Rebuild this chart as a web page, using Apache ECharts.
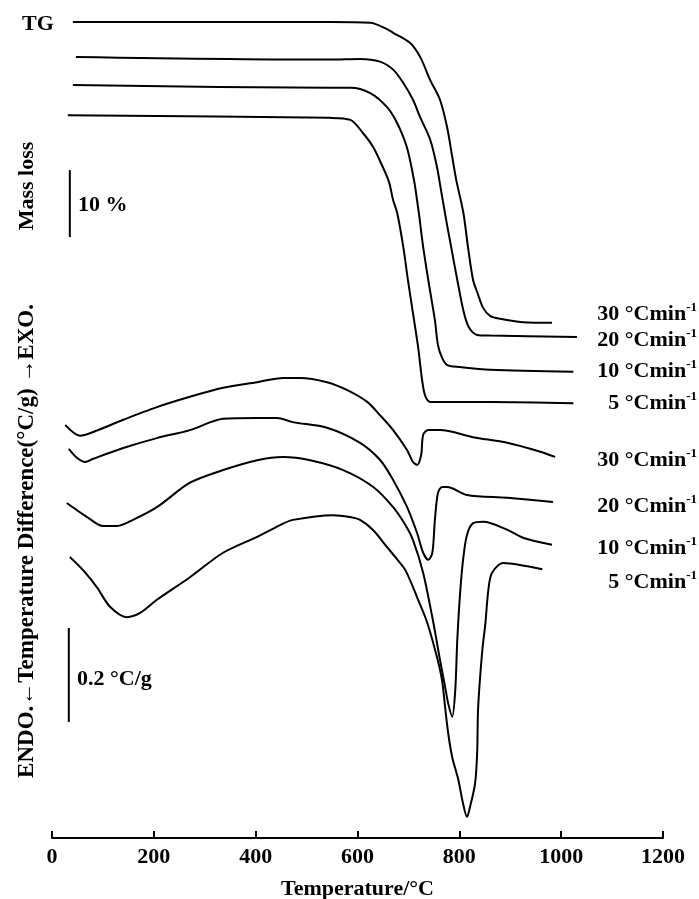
<!DOCTYPE html>
<html>
<head>
<meta charset="utf-8">
<title>TG / DTA</title>
<script src="https://cdn.jsdelivr.net/npm/echarts@6/dist/echarts.min.js"></script>
<style>
  html, body { margin: 0; padding: 0; background: #fff; }
  #chart { width: 699px; height: 899px; }
</style>
</head>
<body>
<div id="chart"></div>
<script>
// heating rates, top to bottom
var rateLabels = ["30", "20", "10", "5"];

// TG: temperature (°C) and remaining mass (%)
var tg30T = [41, 546, 625, 654, 670, 703, 723, 743, 762, 776, 786, 794, 808, 817, 827, 835, 847, 861, 880, 925, 982];
var tg30 = [100, 100, 99.9, 99.1, 98.4, 96.9, 94.8, 91.3, 88.4, 84.3, 79.9, 76.4, 71.5, 66.4, 61.5, 59.7, 57.3, 56.1, 55.7, 55.2, 55.1];
var tg20T = [47, 546, 605, 644, 670, 690, 709, 723, 743, 756, 764, 774, 784, 796, 809, 819, 835, 861, 1031];
var tg20 = [100, 99.6, 99.7, 99.3, 98.1, 96.1, 93.6, 91.0, 87.6, 83.6, 80.1, 75.7, 71.6, 66.7, 61.8, 59.6, 58.5, 58.4, 58.2];
var tg10T = [41, 546, 586, 625, 658, 678, 697, 711, 717, 721, 729, 739, 752, 758, 766, 776, 802, 861, 1024];
var tg10 = [100, 99.6, 99.6, 98.8, 96.7, 94.3, 90.7, 85.8, 82.8, 80.6, 75.8, 70.9, 64.9, 61.2, 59.3, 58.2, 57.9, 57.5, 57.2];
var tg5T = [31, 546, 586, 611, 631, 650, 662, 670, 678, 690, 699, 709, 719, 727, 733, 743, 861, 1024];
var tg5 = [100, 99.6, 99.3, 97.3, 95.2, 92.2, 90.0, 87.3, 85.4, 80.3, 75.4, 70.4, 65.4, 60.4, 58.1, 57.2, 57.2, 57.0];

// DTA: temperature (°C) and temperature difference (°C/g, relative to start)
var dta30T = [26, 55, 81, 140, 206, 271, 336, 403, 454, 487, 540, 580, 619, 644, 670, 697, 709, 717, 725, 729, 739, 762, 827, 894, 959, 988];
var dta30 = [0, -0.023, -0.015, 0.011, 0.038, 0.060, 0.079, 0.091, 0.100, 0.100, 0.091, 0.074, 0.049, 0.021, -0.011, -0.053, -0.079, -0.085, -0.064, -0.021, -0.011, -0.011, -0.026, -0.038, -0.057, -0.068];
var dta20T = [33, 49, 65, 81, 140, 206, 271, 336, 403, 442, 473, 540, 605, 644, 670, 697, 717, 729, 739, 747, 752, 758, 766, 776, 815, 894, 984];
var dta20 = [0, -0.019, -0.028, -0.021, 0.002, 0.023, 0.040, 0.064, 0.066, 0.066, 0.057, 0.045, 0.013, -0.023, -0.066, -0.123, -0.179, -0.221, -0.236, -0.221, -0.151, -0.094, -0.081, -0.081, -0.098, -0.104, -0.113];
var dta10T = [29, 69, 100, 128, 159, 206, 271, 336, 403, 454, 507, 572, 631, 670, 694, 709, 729, 749, 762, 772, 778, 786, 792, 796, 802, 808, 815, 827, 847, 894, 925, 982];
var dta10 = [0, -0.030, -0.049, -0.049, -0.036, -0.009, 0.043, 0.070, 0.091, 0.098, 0.091, 0.070, 0.034, -0.009, -0.047, -0.079, -0.149, -0.255, -0.334, -0.391, -0.426, -0.455, -0.398, -0.291, -0.185, -0.115, -0.068, -0.043, -0.040, -0.057, -0.074, -0.089];
var dta5T = [35, 61, 88, 114, 147, 173, 206, 271, 336, 403, 448, 473, 552, 585, 605, 631, 658, 674, 694, 719, 737, 756, 766, 772, 778, 786, 798, 807, 815, 821, 831, 835, 837, 845, 851, 857, 864, 886, 919, 963];
var dta5 = [0, -0.028, -0.064, -0.106, -0.128, -0.119, -0.091, -0.043, 0.009, 0.043, 0.068, 0.079, 0.089, 0.085, 0.079, 0.057, 0.021, 0, -0.028, -0.091, -0.140, -0.213, -0.262, -0.319, -0.374, -0.426, -0.474, -0.523, -0.553, -0.532, -0.481, -0.417, -0.319, -0.200, -0.143, -0.070, -0.034, -0.013, -0.017, -0.026];

// vertical stacking of the curves (TG in %, DTA in °C/g)
var tgShift = [0, -5.2, -9.4, -13.9];
var dtaShift = [0.879, 0.828, 0.713, 0.598];

// scale bars
var tgBar = { t: 35, from: 67.9, size: 10 };
var dtaBar = { t: 33, from: 0.247, size: 0.2 };

var xTicks = [0, 200, 400, 600, 800, 1000, 1200];

(function () {
  var FONT = '"Liberation Serif", "Times New Roman", "DejaVu Serif", serif';
  var INK = "#000";

  function zip(ts, vs, shift) {
    return ts.map(function (t, i) {
      return [t, +(vs[i] + shift).toFixed(4)];
    });
  }

  function curve(name, data, yIndex, smooth) {
    return {
      name: name,
      type: "line",
      yAxisIndex: yIndex,
      data: data,
      smooth: smooth,
      symbol: "none",
      silent: true,
      lineStyle: { color: INK, width: 2 },
    };
  }

  var tgT = [tg30T, tg20T, tg10T, tg5T];
  var tgV = [tg30, tg20, tg10, tg5];
  var dtaT = [dta30T, dta20T, dta10T, dta5T];
  var dtaV = [dta30, dta20, dta10, dta5];

  var series = [];
  rateLabels.forEach(function (r, i) {
    series.push(curve("TG " + r, zip(tgT[i], tgV[i], tgShift[i]), 0, 0.3));
  });
  rateLabels.forEach(function (r, i) {
    series.push(curve("DTA " + r, zip(dtaT[i], dtaV[i], dtaShift[i]), 1, 0.3));
  });
  series.push(curve("10 % bar", [[tgBar.t, tgBar.from], [tgBar.t, tgBar.from + tgBar.size]], 0, false));
  series.push(curve("0.2 bar", [[dtaBar.t, dtaBar.from], [dtaBar.t, dtaBar.from + dtaBar.size]], 1, false));

  var rich = {
    n: { fontFamily: FONT, fontWeight: "bold", fontSize: 22, color: INK, lineHeight: 26 },
    sup: { fontFamily: FONT, fontWeight: "bold", fontSize: 13, color: INK, verticalAlign: "top", lineHeight: 26 },
  };

  function text(x, y, str, extra) {
    var style = {
      x: x,
      y: y,
      text: str,
      fill: INK,
      font: "bold 22px " + FONT,
      textAlign: "left",
      textVerticalAlign: "middle",
    };
    Object.assign(style, extra || {});
    return { type: "text", style: style, silent: true };
  }

  function vtext(x, y, str, size) {
    return {
      type: "text",
      x: x,
      y: y,
      rotation: Math.PI / 2,
      silent: true,
      style: { x: 0, y: 0, text: str, fill: INK, font: "bold " + size + "px " + FONT, textAlign: "center", textVerticalAlign: "middle" },
    };
  }

  function rateText(y, r) {
    return text(697, y, "{n|" + r + " °Cmin}{sup|-1}", { textAlign: "right", rich: rich });
  }

  var tgLabelY = [314, 340, 371, 403];
  var dtaLabelY = [460, 506, 548, 582];

  var graphic = [
    text(22, 24, "TG"),
    text(78, 205, "10 %"),
    text(77, 679, "0.2 °C/g"),
    vtext(27, 186, "Mass loss", 22),
    vtext(27, 541, "ENDO.\u2190Temperature Difference(°C/g) \u2192EXO.", 23),
  ];
  rateLabels.forEach(function (r, i) {
    graphic.push(rateText(tgLabelY[i], r));
    graphic.push(rateText(dtaLabelY[i], r));
  });

  var chart = echarts.init(document.getElementById("chart"), null, { renderer: "canvas" });
  chart.setOption({
    animation: false,
    backgroundColor: "#fff",
    grid: { left: 52, right: 36, top: 10, bottom: 61, outerBoundsMode: "none", containLabel: false },
    xAxis: {
      type: "value",
      min: xTicks[0],
      max: xTicks[xTicks.length - 1],
      interval: 200,
      name: "Temperature/°C",
      nameLocation: "middle",
      nameGap: 40,
      nameTextStyle: { fontFamily: FONT, fontWeight: "bold", fontSize: 22, color: INK },
      axisLine: { onZero: false, lineStyle: { color: INK, width: 2 } },
      axisTick: { inside: true, length: 7, lineStyle: { color: INK, width: 2 } },
      axisLabel: {
        fontFamily: FONT,
        fontWeight: "bold",
        fontSize: 22,
        color: INK,
        margin: 8,
        formatter: function (v) {
          return String(v);
        },
      },
      splitLine: { show: false },
    },
    yAxis: [
      { type: "value", min: -21.8, max: 101.8, show: false },
      { type: "value", min: 0, max: 1.762, show: false },
    ],
    series: series,
    graphic: graphic,
  });
})();
</script>
</body>
</html>
